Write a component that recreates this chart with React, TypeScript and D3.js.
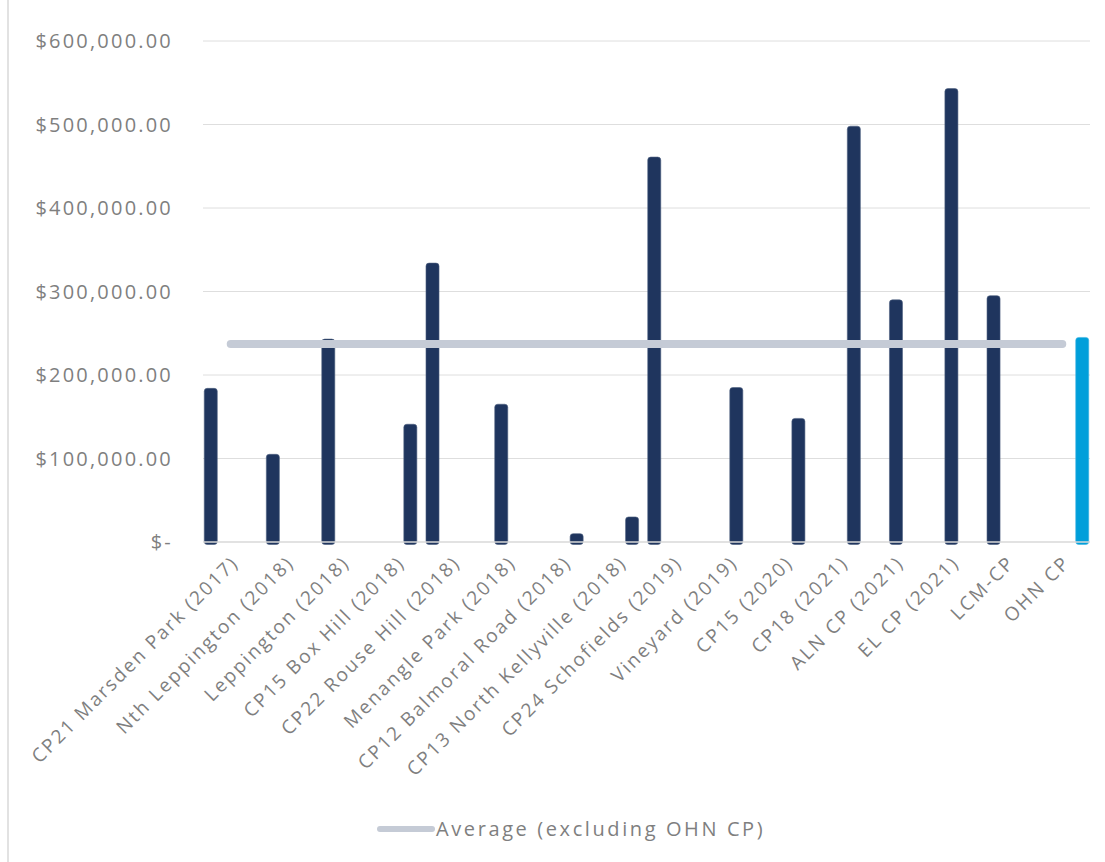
import React from 'react';
import * as d3 from 'd3';

const categories = [
  'CP21 Marsden Park (2017)',
  'Nth Leppington (2018)',
  'Leppington (2018)',
  'CP15 Box Hill (2018)',
  'CP22 Rouse Hill (2018)',
  'Menangle Park (2018)',
  'CP12 Balmoral Road (2018)',
  'CP13 North Kellyville (2018)',
  'CP24 Schofields (2019)',
  'Vineyard (2019)',
  'CP15 (2020)',
  'CP18 (2021)',
  'ALN CP (2021)',
  'EL CP (2021)',
  'LCM-CP',
  'OHN CP',
];

// cost per hectare
const values = [
  184000, 105000, 243000, 141000, 334000, 165000, 10000, 30000,
  461000, 185000, 148000, 498000, 290000, 543000, 295000, 245000,
];

// the source chart is clustered, each plan sits in its own series slot
const seriesSlot = [0, 1, 1, 5, 0, 2, 5, 5, 0, 4, 5, 5, 3, 3, 1, 6];

const averageValue = 237000;
const averageLabel = 'Average (excluding OHN CP)';
const highlight = 'OHN CP';

const yTicks = [0, 100000, 200000, 300000, 400000, 500000, 600000];

const fmt = (v: number) => (v === 0 ? '$-' : '$' + d3.format(',.2f')(v));

export default function App() {
  const width = 1105;
  const height = 862;
  const margin = { top: 41, right: 15, bottom: 320, left: 203 };

  const x = d3
    .scaleBand<string>()
    .domain(categories)
    .range([margin.left, width - margin.right])
    .padding(0);

  const y = d3
    .scaleLinear()
    .domain([0, 600000])
    .range([height - margin.bottom, margin.top]);

  const bw = x.bandwidth();
  const slot = d3.scaleLinear().domain([0, 6]).range([-bw * 0.36, bw * 0.36]);
  const barW = bw * 0.235;

  const center = (c: string) => (x(c) as number) + bw / 2;
  const textColor = '#7f7f7f';
  const font = '"Open Sans", Lato, sans-serif';

  return (
    <svg
      width={width}
      height={height}
      style={{ position: 'absolute', left: 0, top: 0, background: '#fff' }}
      fontFamily={font}
    >
      <line x1={8} x2={8} y1={0} y2={height} stroke="#d9d9d9" strokeWidth={1.5} />

      {/* gridlines + y labels */}
      {yTicks.map((t) => (
        <g key={t}>
          {t > 0 && (
            <line
              x1={margin.left}
              x2={width - margin.right}
              y1={y(t)}
              y2={y(t)}
              stroke="#dedede"
              strokeWidth={1}
            />
          )}
          <text
            x={173}
            y={y(t)}
            dy="0.35em"
            textAnchor="end"
            fill={textColor}
            fontSize={20}
            letterSpacing={2.2}
          >
            {fmt(t)}
          </text>
        </g>
      ))}

      {/* bars */}
      {categories.map((c, i) => {
        const cx = center(c) + slot(seriesSlot[i]);
        return (
          <rect
            key={c}
            x={cx - barW / 2}
            y={y(values[i])}
            width={barW}
            height={y(0) - y(values[i]) + 2.5}
            rx={3}
            fill={c === highlight ? '#009fda' : '#1f355e'}
            stroke={c === highlight ? '#3fb4e3' : '#4d5f80'}
            strokeWidth={0.6}
          />
        );
      })}

      {/* zero line */}
      <line
        x1={margin.left}
        x2={width - margin.right}
        y1={y(0)}
        y2={y(0)}
        stroke="#d9d9d9"
        strokeWidth={1.5}
      />

      {/* average line */}
      <line
        x1={center(categories[0])}
        x2={center(categories[categories.length - 1])}
        y1={y(averageValue)}
        y2={y(averageValue)}
        stroke="#c5cbd6"
        strokeWidth={8}
        strokeLinecap="round"
      />

      {/* x labels */}
      {categories.map((c) => (
        <text
          key={c}
          transform={`translate(${center(c) + 9},${y(0) + 22}) rotate(-45)`}
          textAnchor="end"
          fill={textColor}
          fontSize={19}
          letterSpacing={2.1}
        >
          {c}
        </text>
      ))}

      {/* legend */}
      <g transform="translate(380,829)">
        <line x1={0} x2={52} y1={0} y2={0} stroke="#c5cbd6" strokeWidth={6} strokeLinecap="round" />
        <text x={56} y={0} dy="0.35em" fill={textColor} fontSize={20} letterSpacing={2.6}>
          {averageLabel}
        </text>
      </g>
    </svg>
  );
}
